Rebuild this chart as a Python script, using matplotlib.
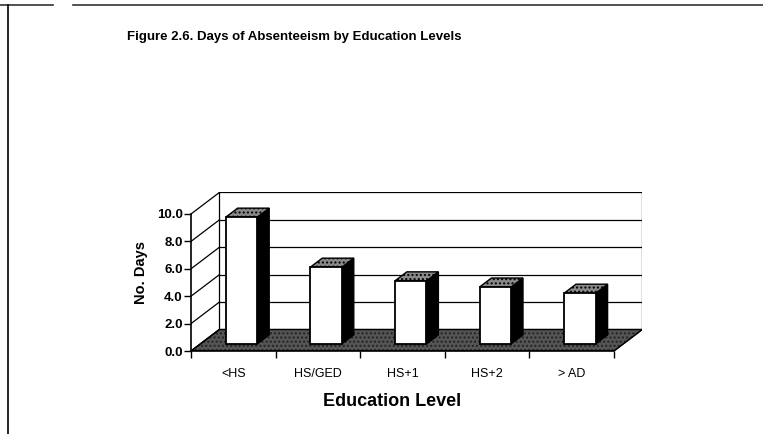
import matplotlib
matplotlib.use('Agg')
from matplotlib import pyplot as plt
from matplotlib.patches import Polygon
from matplotlib.lines import Line2D

categories = ['<HS', 'HS/GED', 'HS+1', 'HS+2', '> AD']
days = [9.25, 5.6, 4.6, 4.15, 3.7]
yticks = [0, 2, 4, 6, 8, 10]

# oblique depth of the box (data units) and bar placement inside a category
DX, DY = 0.335, 1.57
F0, F1 = 0.33, 0.75
BAR_L, BAR_W = 0.30, 0.373

plt.rcParams['font.family'] = ['Liberation Sans', 'DejaVu Sans']

W, H = 763, 434
fig = plt.figure(figsize=(W / 100, H / 100), dpi=100)

n = len(categories)
xmax = n + DX
ymax = 10 + DY
axw = xmax * 84.6
axh = ymax * 13.7
ax = fig.add_axes([191 / W, (H - 351) / H, axw / W, axh / H])
ax.set_xlim(0, xmax)
ax.set_ylim(0, ymax)
for s in ax.spines.values():
    s.set_visible(False)
ax.patch.set_visible(False)


def shift(x, y, f):
    return (x + f * DX, y + f * DY)


# floor
floor_pts = [(0, 0), (n, 0), (n + DX, DY), (DX, DY)]
ax.add_patch(Polygon(floor_pts, closed=True, facecolor='#555555', edgecolor='#222222',
                     hatch='....', lw=0.8, zorder=1))
ax.add_patch(Polygon(floor_pts, closed=True, fill=False, edgecolor='black', lw=1, zorder=1.1))

# back wall and side wall gridlines
for v in yticks:
    if v > 0:
        ax.plot([DX, n + DX], [v + DY, v + DY], color='black', lw=0.9, zorder=1.5)
    ax.plot([0, DX], [v, v + DY], color='black', lw=0.9, zorder=1.5)
ax.plot([n + DX, n + DX], [DY, 10 + DY], color='black', lw=0.9, zorder=1.5)
ax.plot([DX, DX], [DY, 10 + DY], color='black', lw=0.9, zorder=1.5)

# bars
for i, v in enumerate(days):
    xl = i + BAR_L
    xr = xl + BAR_W
    front = [shift(xl, 0, F0), shift(xr, 0, F0), shift(xr, v, F0), shift(xl, v, F0)]
    side = [shift(xr, 0, F0), shift(xr, 0, F1), shift(xr, v, F1), shift(xr, v, F0)]
    top = [shift(xl, v, F0), shift(xr, v, F0), shift(xr, v, F1), shift(xl, v, F1)]
    ax.add_patch(Polygon(side, closed=True, facecolor='black', edgecolor='black', lw=1, zorder=3))
    ax.add_patch(Polygon(top, closed=True, facecolor='#8a8a8a', edgecolor='black',
                         hatch='....', lw=1, zorder=3))
    ax.add_patch(Polygon(front, closed=True, facecolor='white', edgecolor='black', lw=1.3, zorder=3))

# front axes
ax.plot([0, 0], [0, 10], color='black', lw=1.2, zorder=4, clip_on=False)
ax.plot([0, n], [0, 0], color='black', lw=1.2, zorder=4, clip_on=False)

ax.set_yticks(yticks)
ax.set_yticklabels(['%.1f' % t for t in yticks], fontsize=9.5, fontweight='bold')
ax.tick_params(axis='y', direction='out', length=5, width=1, pad=1)

ax.set_xticks(range(n + 1))
ax.set_xticklabels([])
ax.set_xticks([i + 0.5 for i in range(n)], minor=True)
ax.set_xticklabels(categories, minor=True, fontsize=9)
ax.tick_params(axis='x', which='major', direction='out', length=5, width=1)
ax.tick_params(axis='x', which='minor', length=0, pad=12)

ax.set_ylabel('No. Days', fontsize=10.5, fontweight='bold')
ax.yaxis.set_label_coords(-(191 - 148) / axw, (351 - 272) / axh)
ax.set_xlabel('Education Level', fontsize=13, fontweight='bold')
ax.xaxis.set_label_coords((391.7 - 191) / axw, -(393 - 351) / axh)

fig.text(294 / W, 1 - 37 / H, 'Figure 2.6. Days of Absenteeism by Education Levels',
         ha='center', va='center', fontsize=9.5, fontweight='bold')

# page border
fig.add_artist(Line2D([0, 53 / W], [1 - 5 / H, 1 - 5 / H], color='#333333', lw=1.2))
fig.add_artist(Line2D([73 / W, 1], [1 - 5 / H, 1 - 5 / H], color='#333333', lw=1.2))
fig.add_artist(Line2D([8 / W, 8 / W], [0, 1 - 5 / H], color='black', lw=1.2))

fig.savefig('out.png', dpi=100)
